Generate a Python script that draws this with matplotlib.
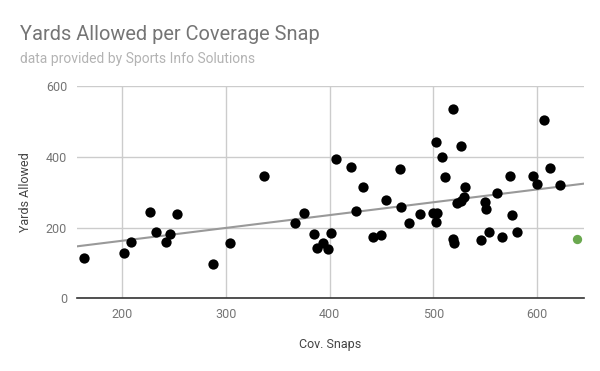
import matplotlib
matplotlib.use('Agg')
import matplotlib.pyplot as plt
import numpy as np

# coverage snaps / yards allowed (black points)
snaps = [163, 202, 208, 227, 232, 242, 246, 253, 287, 304, 337, 366, 375,
         385, 388, 393, 398, 401, 406, 420, 425, 432, 442, 449, 454, 468,
         469, 476, 487, 500, 502, 503, 502, 508, 511, 519, 519, 520, 523,
         527, 527, 529, 530, 546, 550, 551, 554, 561, 566, 574, 576, 581,
         596, 600, 607, 612, 622]
yards = [113, 128, 160, 244, 187, 158, 181, 239, 96, 156, 345, 213, 241,
         182, 143, 156, 138, 185, 395, 372, 248, 314, 173, 179, 278, 366,
         257, 212, 238, 242, 443, 242, 217, 399, 344, 536, 169, 155, 268,
         431, 275, 285, 316, 165, 272, 253, 187, 298, 173, 346, 235, 187,
         346, 324, 505, 369, 319]
# highlighted player
hl_snaps = [638]
hl_yards = [168]

plt.rcParams['font.family'] = ['Roboto', 'DejaVu Sans']

fig = plt.figure(figsize=(6, 3.71), dpi=100)
ax = fig.add_axes([0.128, 0.196, 0.845, 0.572])

ax.set_xlim(156, 645)
ax.set_ylim(0, 600)
ax.set_xticks([200, 300, 400, 500, 600])
ax.set_yticks([0, 200, 400, 600])
ax.grid(True, color='#cccccc', linewidth=1)
ax.set_axisbelow(True)
for s in ['left', 'right', 'top']:
    ax.spines[s].set_visible(False)
ax.spines['bottom'].set_color('#333333')
ax.spines['bottom'].set_linewidth(1.2)
ax.tick_params(length=0, labelsize=9, colors='#757575', pad=7)

# linear trendline over all players
all_x = snaps + hl_snaps
all_y = yards + hl_yards
m, b = np.polyfit(all_x, all_y, 1)
xs = np.array(ax.get_xlim())
ax.plot(xs, m * xs + b, color='#999999', linewidth=1.5, zorder=2)

ax.scatter(snaps, yards, s=55, color='black', zorder=3, linewidths=0)
ax.scatter(hl_snaps, hl_yards, s=45, color='#6aa84f', zorder=3, linewidths=0)

ax.set_xlabel('Cov. Snaps', fontsize=9, color='#444444', labelpad=12)
ax.set_ylabel('Yards Allowed', fontsize=9, color='#444444', labelpad=10)

fig.text(20 / 600, 1 - 40 / 371, 'Yards Allowed per Coverage Snap',
         fontsize=14.4, color='#757575', va='baseline')
fig.text(20 / 600, 1 - 63 / 371, 'data provided by Sports Info Solutions',
         fontsize=10, color='#b3b3b3', va='baseline')

fig.savefig('out.png', dpi=100)
